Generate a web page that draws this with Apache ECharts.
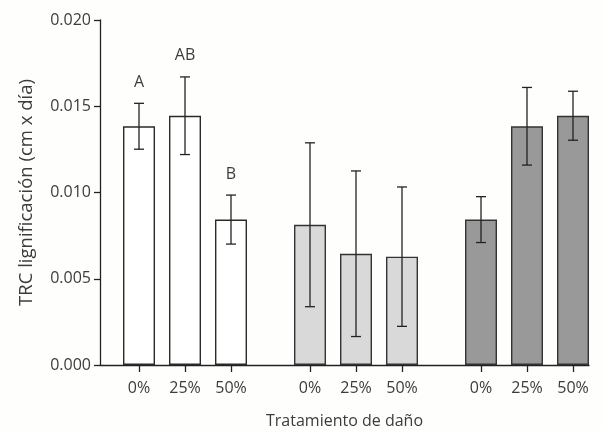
<!DOCTYPE html>
<html>
<head>
<meta charset="utf-8">
<script src="https://cdn.jsdelivr.net/npm/echarts@6/dist/echarts.min.js"></script>
<style>
  html, body { margin: 0; padding: 0; background: #fefefd; }
  #chart { width: 603px; height: 430px; }
</style>
</head>
<body>
<div id="chart"></div>
<script>
// Damage levels shown under each group of bars
const damageLevels = ['0%', '25%', '50%'];

// Mean lignification rate (cm x día) per group
const group1Means = [0.01384, 0.01445, 0.00843];
const group2Means = [0.00813, 0.00645, 0.00628];
const group3Means = [0.00843, 0.01384, 0.01445];

// Error half-widths per group
const group1Err = [0.00133, 0.00225, 0.00142];
const group2Err = [0.00475, 0.00480, 0.00404];
const group3Err = [0.00133, 0.00225, 0.00142];

// Significance letters (only first group)
const group1Letters = ['A', 'AB', 'B'];
const group2Letters = ['', '', ''];
const group3Letters = ['', '', ''];

// Y axis range
const yMin = 0, yMax = 0.020, yStep = 0.005;

const groups = [
  { means: group1Means, err: group1Err, letters: group1Letters, fill: '#ffffff', border: '#2a2a2a' },
  { means: group2Means, err: group2Err, letters: group2Letters, fill: '#d9d9d9', border: '#333333' },
  { means: group3Means, err: group3Err, letters: group3Letters, fill: '#999999', border: '#333333' }
];

const textColor = '#3c3c3c';
const fontFamily = '"Open Sans", "DejaVu Sans", sans-serif';

const chart = echarts.init(document.getElementById('chart'));

const grids = [{ left: 100, right: 14, top: 20, bottom: 65, outerBoundsMode: 'none', containLabel: false }];
const groupLefts = [116, 287, 458];
groupLefts.forEach(l => grids.push({ left: l, width: 138, top: 20, bottom: 65, outerBoundsMode: 'none', containLabel: false }));

const xAxes = [{
  gridIndex: 0, type: 'category', data: [''],
  axisLine: { show: true, lineStyle: { color: '#222', width: 1.3 } },
  axisTick: { show: false }, axisLabel: { show: false },
  name: 'Tratamiento de daño', nameLocation: 'middle', nameGap: 48,
  nameTextStyle: { color: textColor, fontSize: 16, fontFamily: fontFamily }
}];
const yAxes = [{
  gridIndex: 0, type: 'value', min: yMin, max: yMax, interval: yStep,
  axisLine: { show: true, lineStyle: { color: '#222', width: 1.3 } },
  axisTick: { show: true, length: 6, lineStyle: { color: '#222', width: 1.3 } },
  splitLine: { show: false },
  axisLabel: { color: textColor, fontSize: 16, fontFamily: fontFamily, margin: 9,
               formatter: v => v.toFixed(3) },
  name: 'TRC lignificación (cm x día)', nameLocation: 'middle', nameGap: 64,
  nameTextStyle: { color: textColor, fontSize: 18.5, fontFamily: fontFamily }
}];

const series = [];

groups.forEach((g, i) => {
  const gi = i + 1;
  xAxes.push({
    gridIndex: gi, type: 'category', data: damageLevels,
    axisLine: { show: false },
    axisTick: { show: true, alignWithLabel: true, length: 7, lineStyle: { color: '#222', width: 1.3 } },
    axisLabel: { color: textColor, fontSize: 16, fontFamily: fontFamily, margin: 15 }
  });
  yAxes.push({
    gridIndex: gi, type: 'value', min: yMin, max: yMax, interval: yStep, show: false
  });

  series.push({
    type: 'bar', xAxisIndex: gi, yAxisIndex: gi,
    data: g.means, barWidth: 32,
    itemStyle: { color: g.fill, borderColor: g.border, borderWidth: 1.4 },
    z: 2
  });

  const errData = g.means.map((m, k) => [k, m - g.err[k], m + g.err[k], g.letters[k]]);
  series.push({
    type: 'custom', xAxisIndex: gi, yAxisIndex: gi,
    data: errData,
    z: 3,
    renderItem: function (params, api) {
      const x = api.value(0);
      const lo = api.coord([x, api.value(1)]);
      const hi = api.coord([x, api.value(2)]);
      const cap = 5;
      const style = { stroke: '#222', lineWidth: 1.3 };
      const children = [
        { type: 'line', shape: { x1: lo[0], y1: lo[1], x2: hi[0], y2: hi[1] }, style: style },
        { type: 'line', shape: { x1: lo[0] - cap, y1: lo[1], x2: lo[0] + cap, y2: lo[1] }, style: style },
        { type: 'line', shape: { x1: hi[0] - cap, y1: hi[1], x2: hi[0] + cap, y2: hi[1] }, style: style }
      ];
      const letter = errData[params.dataIndex][3];
      if (letter) {
        children.push({
          type: 'text',
          style: {
            text: letter, x: hi[0], y: hi[1] - 21,
            align: 'center', verticalAlign: 'middle',
            fill: textColor, fontSize: 16, fontFamily: fontFamily
          }
        });
      }
      return { type: 'group', children: children };
    }
  });
});

chart.setOption({
  backgroundColor: '#fefefd',
  animation: false,
  grid: grids,
  xAxis: xAxes,
  yAxis: yAxes,
  series: series
});
</script>
</body>
</html>
